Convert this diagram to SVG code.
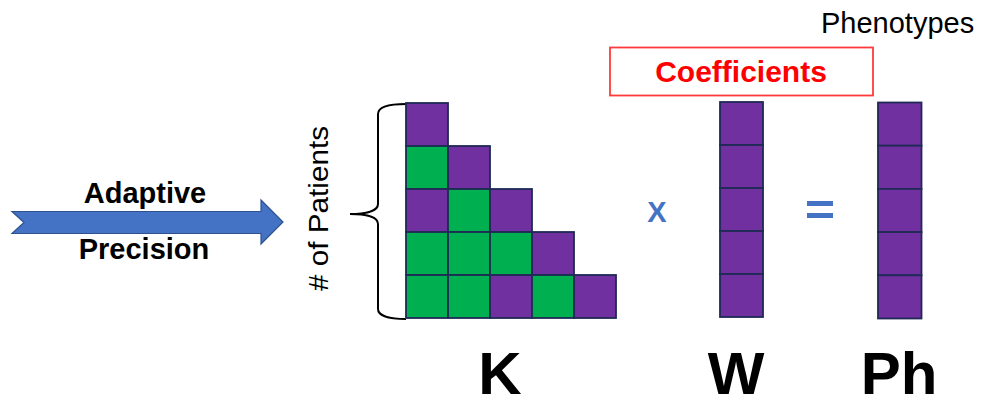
<svg xmlns="http://www.w3.org/2000/svg" width="983" height="398" viewBox="0 0 983 398">
<style>
.p{fill:#7030A0;stroke:#1F2A55;stroke-width:1.8}
.g{fill:#00B050;stroke:#1F2A55;stroke-width:1.8}
.t{font-family:"Liberation Sans",Arial,sans-serif;fill:#000}
.b{font-weight:bold}
.big{font-family:"Liberation Sans",Arial,sans-serif;font-weight:bold;font-size:60px;text-anchor:middle;fill:#000}
</style>
<rect width="983" height="398" fill="#fff"/>
<g id="arrow">
<path d="M12,211.5 L261,211.5 L261,200 L283,222 L261,244 L261,233.5 L12,233.5 L24,222.5 Z" fill="#4472C4" stroke="#2F528F" stroke-width="1.2"/>
<text class="t b" x="145" y="203" font-size="29" text-anchor="middle">Adaptive</text>
<text class="t b" x="144" y="259" font-size="29" text-anchor="middle">Precision</text>
</g>
<g id="patients-label">
<text class="t" transform="translate(328,208.5) rotate(-90)" font-size="28" text-anchor="middle" textLength="165" lengthAdjust="spacingAndGlyphs"># of Patients</text>
<path d="M406,104 C390,104 378,106 378,114 L378,204 C378,211 366,214 350,214 C366,214 378,217 378,224 L378,309 C378,316 390,319 406,319" fill="none" stroke="#000" stroke-width="2"/>
</g>
<g id="K-matrix">
<rect class="p" x="406" y="103" width="42" height="43"/>
<rect class="g" x="406" y="146" width="42" height="43"/>
<rect class="p" x="448" y="146" width="42" height="43"/>
<rect class="p" x="406" y="189" width="42" height="43"/>
<rect class="g" x="448" y="189" width="42" height="43"/>
<rect class="p" x="490" y="189" width="42" height="43"/>
<rect class="g" x="406" y="232" width="42" height="43"/>
<rect class="g" x="448" y="232" width="42" height="43"/>
<rect class="g" x="490" y="232" width="42" height="43"/>
<rect class="p" x="532" y="232" width="42" height="43"/>
<rect class="g" x="406" y="275" width="42" height="43"/>
<rect class="g" x="448" y="275" width="42" height="43"/>
<rect class="p" x="490" y="275" width="42" height="43"/>
<rect class="g" x="532" y="275" width="42" height="43"/>
<rect class="p" x="574" y="275" width="42" height="43"/>
<text class="big" x="500" y="394">K</text>
</g>
<g id="times">
<text class="t b" x="657" y="221.5" font-size="29" text-anchor="middle" style="fill:#4472C4">X</text>
</g>
<g id="coefficients">
<rect x="610" y="47.5" width="263" height="48" fill="#fff" stroke="#FF3B3B" stroke-width="1.8"/>
<text class="t b" x="741" y="82" font-size="30" text-anchor="middle" style="fill:#FF0000">Coefficients</text>
</g>
<g id="W-column">
<rect class="p" x="720" y="102" width="43" height="43"/>
<rect class="p" x="720" y="145" width="43" height="43"/>
<rect class="p" x="720" y="188" width="43" height="43"/>
<rect class="p" x="720" y="231" width="43" height="43"/>
<rect class="p" x="720" y="274" width="43" height="43"/>
<text class="big" x="736" y="394">W</text>
</g>
<g id="equals">
<rect x="807" y="201" width="26" height="5" fill="#4472C4"/>
<rect x="807" y="213" width="26" height="5" fill="#4472C4"/>
</g>
<g id="Ph-column">
<rect class="p" x="878" y="102.5" width="43.5" height="43.2"/>
<rect class="p" x="878" y="145.7" width="43.5" height="43.2"/>
<rect class="p" x="878" y="188.9" width="43.5" height="43.2"/>
<rect class="p" x="878" y="232.1" width="43.5" height="43.2"/>
<rect class="p" x="878" y="275.3" width="43.5" height="43.2"/>
<text class="big" x="899" y="394">Ph</text>
<text class="t" x="821" y="33" font-size="29">Phenotypes</text>
</g>
</svg>
